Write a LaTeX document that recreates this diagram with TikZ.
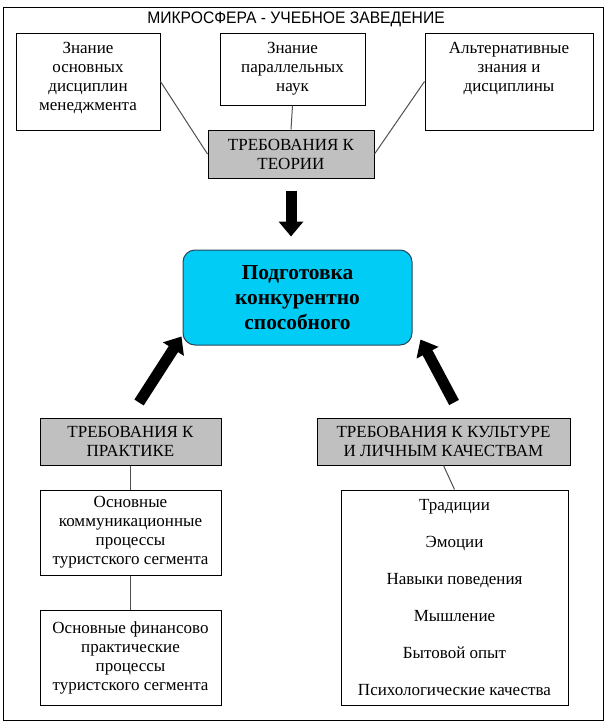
\documentclass[tikz,border=0pt]{standalone}
\usepackage{fontspec}
\setmainfont{Liberation Serif}
\newfontfamily\titlefont[FakeStretch=0.94]{Liberation Sans}
\usetikzlibrary{arrows.meta}

\definecolor{cinza}{RGB}{192,192,192}
\definecolor{ciano}{RGB}{0,204,245}
\definecolor{borda}{RGB}{40,70,90}
\definecolor{linha}{RGB}{80,80,80}

% caixa com texto alinhado em cima
\newcommand{\topbox}[3]{\parbox[c][#2][t]{#1}{\centering\vspace*{5.2pt}\strut #3}}

\tikzset{
  box/.style={draw, fill=white, line width=0.75pt, inner sep=0pt, align=center,
    font=\fontsize{12.75}{14.25}\selectfont},
  greybox/.style={box, fill=cinza},
  link/.style={draw=linha, line width=0.75pt},
  fatarrow/.style={-{Triangle[width=18pt,length=11.25pt]}, line width=8.25pt},
}

\begin{document}
\begin{tikzpicture}[x=0.75pt, y=-0.75pt]
  \useasboundingbox (0,0) rectangle (610,728);

  % Moldura e titulo
  \draw[line width=0.75pt] (3,7) rectangle (603,720);
  \node (titulo) at (296,19) {\titlefont\fontsize{12.5}{14}\selectfont МИКРОСФЕРА - УЧЕБНОЕ ЗАВЕДЕНИЕ};

  % Linha de cima
  \node[box] (menedzh) at (88,81.5) {\topbox{108pt}{72.75pt}{Знание\\основных\\дисциплин\\менеджмента}};
  \node[box] (nauki) at (292.5,69) {\topbox{108.75pt}{54pt}{Знание\\параллельных\\наук}};
  \node[box] (alter) at (509,81.5) {\topbox{126pt}{72.75pt}{Альтернативные\\знания и\\дисциплины}};
  \node[greybox, minimum width=124.5pt, minimum height=36pt] (teoria) at (291,154) {ТРЕБОВАНИЯ К\\ТЕОРИИ};

  \draw[link] (menedzh.east) -- (teoria.west);
  \draw[link] (nauki.south) -- (teoria.north);
  \draw[link] (alter.west) -- (teoria.east);

  % Caixa central
  \node[draw=borda, fill=ciano, line width=0.75pt, rounded corners=9pt, align=center,
    minimum width=171.75pt, minimum height=71.25pt,
    font=\fontsize{16}{18.75}\selectfont\bfseries] (centro) at (297.5,297.5)
    {Подготовка\\конкурентно\\способного};

  % Lado esquerdo
  \node[greybox, minimum width=135.75pt, minimum height=35.25pt] (pratica) at (130.5,441.5) {ТРЕБОВАНИЯ К\\ПРАКТИКЕ};
  \node[box, minimum width=135.75pt, minimum height=63.75pt] (comunic) at (130.5,532.5)
    {Основные\\коммуникационные\\процессы\\туристского сегмента};
  \node[box, minimum width=135.75pt, minimum height=71.25pt] (financ) at (130.5,657.5)
    {Основные финансово\\практические\\процессы\\туристского сегмента};

  \draw[link] (pratica.south) -- (comunic.north);
  \draw[link] (comunic.south) -- (financ.north);

  % Lado direito
  \node[greybox, minimum width=189.75pt, minimum height=35.25pt] (cultura) at (443.5,441.5)
    {ТРЕБОВАНИЯ К КУЛЬТУРЕ\\И ЛИЧНЫМ КАЧЕСТВАМ};
  \node[box, minimum width=170.25pt, minimum height=161.25pt,
    font=\fontsize{12.75}{27.75}\selectfont] (lista) at (454.5,597.5)
    {Традиции\\Эмоции\\Навыки поведения\\Мышление\\Бытовой опыт\\Психологические качества};

  \draw[link] (cultura.south) -- (lista.north);

  % Setas grossas
  \draw[fatarrow, shorten <=9pt, shorten >=9.75pt] (teoria.south) -- (teoria.south |- centro.north);
  \draw[fatarrow] ([xshift=6.4pt,yshift=11.25pt]pratica.north) -- ([xshift=-0.75pt,yshift=6.75pt]centro.south west);
  \draw[fatarrow] ([xshift=7.9pt,yshift=11.25pt]cultura.north) -- ([xshift=6pt,yshift=4.5pt]centro.south east);
\end{tikzpicture}
\end{document}
